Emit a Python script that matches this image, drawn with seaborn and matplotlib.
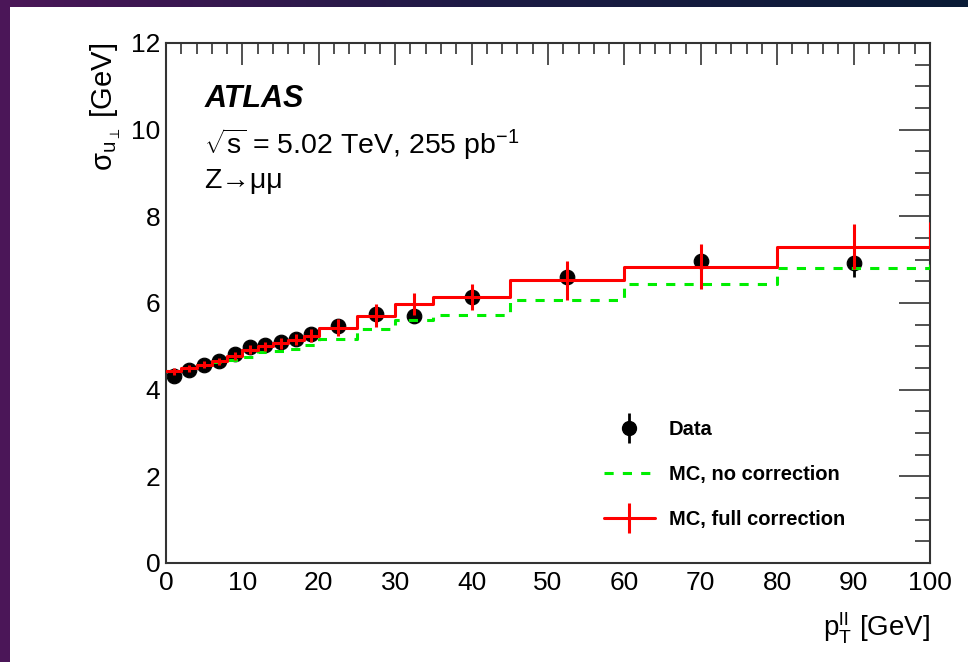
import numpy as np
import pandas as pd
import matplotlib
matplotlib.use("Agg")
import matplotlib.pyplot as plt
import seaborn as sns
from matplotlib.lines import Line2D
from matplotlib.legend_handler import HandlerTuple
from matplotlib.ticker import MultipleLocator

# === data ===
bin_edges = [0, 2, 4, 6, 8, 10, 12, 14, 16, 18, 20, 25, 30, 35, 45, 60, 80, 100, 120]
data_x = [1, 3, 5, 7, 9, 11, 13, 15, 17, 19, 22.5, 27.5, 32.5, 40, 52.5, 70, 90]
data_y = [4.32, 4.46, 4.58, 4.67, 4.82, 4.99, 5.02, 5.09, 5.16, 5.29, 5.46, 5.75, 5.70, 6.13, 6.61, 6.96, 6.92]
data_err = [0.05, 0.05, 0.05, 0.05, 0.06, 0.07, 0.07, 0.08, 0.09, 0.12, 0.16, 0.18, 0.15, 0.17, 0.22, 0.33, 0.31]

mc_full = [4.43, 4.49, 4.58, 4.66, 4.77, 4.92, 5.00, 5.07, 5.15, 5.25, 5.43, 5.71, 5.98, 6.15, 6.52, 6.84, 7.30, 7.85]
mc_full_err = [0.08, 0.08, 0.08, 0.08, 0.09, 0.10, 0.11, 0.12, 0.13, 0.15, 0.20, 0.26, 0.26, 0.30, 0.46, 0.52, 0.52, 0.5]
mc_nocorr = [4.42, 4.49, 4.56, 4.65, 4.69, 4.76, 4.86, 4.90, 4.95, 5.04, 5.16, 5.39, 5.60, 5.73, 6.08, 6.43, 6.80, 7.05]

# === style ===
sns.set_theme(style="white")
plt.rcParams['font.family'] = ['Liberation Sans', 'DejaVu Sans']
plt.rcParams['mathtext.fontset'] = 'custom'
plt.rcParams['mathtext.rm'] = 'Liberation Sans'
plt.rcParams['mathtext.it'] = 'Liberation Sans:italic'
plt.rcParams['mathtext.bf'] = 'Liberation Sans:bold'
plt.rcParams['text.color'] = 'black'
plt.rcParams['axes.labelcolor'] = 'black'
plt.rcParams['xtick.color'] = 'black'
plt.rcParams['ytick.color'] = 'black'

fig = plt.figure(figsize=(9.68, 6.62), dpi=100)
fig.patch.set_facecolor('white')

# slide border: purple strip on the left, purple->navy gradient on top
strip = fig.add_axes([0, 1 - 7 / 662, 1, 7 / 662])
grad = np.linspace(0, 1, 256).reshape(1, -1)
cmap = matplotlib.colors.LinearSegmentedColormap.from_list("band", ["#4b1658", "#1d1b45", "#0a1c36"])
strip.imshow(grad, aspect='auto', cmap=cmap)
strip.axis('off')
left = fig.add_axes([0, 0, 10 / 968, 1])
left.set_facecolor('#4b1658')
left.set_xticks([])
left.set_yticks([])
for s in left.spines.values():
    s.set_visible(False)

ax = fig.add_axes([166 / 968, 1 - 563 / 662, (930 - 166) / 968, (563 - 43) / 662])

# data points (drawn below the MC lines, as in the original)
ax.errorbar(data_x, data_y, yerr=data_err, fmt='none', ecolor='black', elinewidth=2, capsize=0, zorder=2)
sns.scatterplot(x=data_x, y=data_y, ax=ax, color='black', s=110, edgecolor='black', zorder=2.5)

# step histograms
steps = pd.DataFrame({
    "x": bin_edges,
    "full": mc_full + [mc_full[-1]],
    "nocorr": mc_nocorr + [mc_nocorr[-1]],
})
sns.lineplot(data=steps, x="x", y="nocorr", ax=ax, drawstyle="steps-post", color="#00ee00",
             lw=2.2, linestyle=(0, (3, 3)), sort=False, estimator=None, zorder=3)
sns.lineplot(data=steps, x="x", y="full", ax=ax, drawstyle="steps-post", color="#ff0000",
             lw=2.2, sort=False, estimator=None, zorder=4)
centers = [(a + b) / 2 for a, b in zip(bin_edges[:-1], bin_edges[1:])]
ax.errorbar(centers, mc_full, yerr=mc_full_err, fmt='none', ecolor='#ff0000', elinewidth=2.2,
            capsize=0, zorder=4)

ax.set_xlim(0, 100)
ax.set_ylim(0, 12)
ax.xaxis.set_major_locator(MultipleLocator(10))
ax.xaxis.set_minor_locator(MultipleLocator(2))
ax.yaxis.set_major_locator(MultipleLocator(2))
ax.yaxis.set_minor_locator(MultipleLocator(0.5))
ax.tick_params(which='both', direction='in', top=True, right=True, color='#333333', width=1.2,
               labelsize=19)
ax.tick_params(axis='x', which='major', length=16, pad=6)
ax.tick_params(axis='x', which='minor', length=8)
ax.tick_params(axis='y', which='major', length=22, pad=4)
ax.tick_params(axis='y', which='minor', length=11)
for s in ax.spines.values():
    s.set_color('#333333')
    s.set_linewidth(1.5)

ax.set_xlabel(r'$\mathrm{p_{T}^{ll}}$ [GeV]', fontsize=20, loc='right', labelpad=10)
ax.set_ylabel(r'$\mathrm{\sigma_{u_{\perp}}}$ [GeV]', fontsize=21, loc='top', labelpad=6)

ax.text(0.05, 0.893, 'ATLAS', transform=ax.transAxes, fontsize=22, fontweight='bold',
        fontstyle='italic', va='center')
ax.text(0.05, 0.805, r'$\sqrt{\mathrm{s}}$ = 5.02 TeV, 255 pb$^{\mathrm{-1}}$', transform=ax.transAxes,
        fontsize=20.5, va='center')
ax.text(0.05, 0.735, 'Z→μμ', transform=ax.transAxes, fontsize=20.5, va='center')

# legend
h_dot = Line2D([], [], color='black', marker='o', markersize=10, linestyle='none')
h_bar = Line2D([], [], color='black', marker='|', markersize=22, markeredgewidth=2, linestyle='none')
h_nocorr = Line2D([], [], color='#00ee00', lw=2.2, linestyle=(0, (3, 3)))
h_full = Line2D([], [], color='#ff0000', lw=2.2, marker='|', markersize=22, markeredgewidth=2.2)
leg = ax.legend([(h_bar, h_dot), h_nocorr, h_full], ['Data', 'MC, no correction', 'MC, full correction'],
                handler_map={tuple: HandlerTuple(ndivide=1, pad=0)},
                loc='upper left', bbox_to_anchor=(0.55, 0.31), frameon=False,
                prop={'weight': 'bold', 'size': 14.5}, handlelength=2.5, labelspacing=1.3,
                handletextpad=0.7)

fig.savefig("out.png", dpi=100)
